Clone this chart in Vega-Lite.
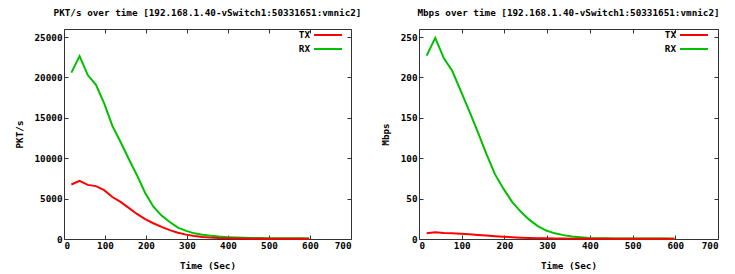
{
  "$schema": "https://vega.github.io/schema/vega-lite/v6.json",
  "background": "white",
  "padding": {"left": 14, "top": 8, "right": 4, "bottom": 2},
  "config": {
    "font": "DejaVu Sans Mono",
    "view": {"stroke": "#333333", "strokeWidth": 1},
    "axis": {
      "labelFont": "DejaVu Sans Mono", "labelFontWeight": "bold", "labelFontSize": 9.3, "labelColor": "#000",
      "titleFont": "DejaVu Sans Mono", "titleFontWeight": "bold", "titleFontSize": 9.3, "titleColor": "#000",
      "grid": false, "domain": false, "tickColor": "#333333", "tickSize": -4, "labelPadding": 6, "format": "d"
    },
    "title": {"font": "DejaVu Sans Mono", "fontWeight": "bold", "fontSize": 9.3, "color": "#000", "offset": 10},
    "legend": {
      "labelFont": "DejaVu Sans Mono", "labelFontWeight": "bold", "labelFontSize": 9.3, "labelColor": "#000"
    }
  },
  "datasets": {
    "traffic": [
      {"t": 18, "dir": "RX", "pkts": 20600, "mbps": 227},
      {"t": 38, "dir": "RX", "pkts": 22650, "mbps": 249},
      {"t": 58, "dir": "RX", "pkts": 20300, "mbps": 224},
      {"t": 78, "dir": "RX", "pkts": 19100, "mbps": 208},
      {"t": 98, "dir": "RX", "pkts": 16800, "mbps": 183},
      {"t": 118, "dir": "RX", "pkts": 14000, "mbps": 158},
      {"t": 138, "dir": "RX", "pkts": 12000, "mbps": 132},
      {"t": 158, "dir": "RX", "pkts": 9900, "mbps": 105},
      {"t": 178, "dir": "RX", "pkts": 7900, "mbps": 80},
      {"t": 198, "dir": "RX", "pkts": 5700, "mbps": 62},
      {"t": 218, "dir": "RX", "pkts": 4000, "mbps": 46},
      {"t": 238, "dir": "RX", "pkts": 2900, "mbps": 34},
      {"t": 258, "dir": "RX", "pkts": 2100, "mbps": 24},
      {"t": 278, "dir": "RX", "pkts": 1400, "mbps": 16},
      {"t": 298, "dir": "RX", "pkts": 1000, "mbps": 10.5},
      {"t": 318, "dir": "RX", "pkts": 700, "mbps": 7},
      {"t": 338, "dir": "RX", "pkts": 520, "mbps": 4.8},
      {"t": 358, "dir": "RX", "pkts": 400, "mbps": 3.2},
      {"t": 378, "dir": "RX", "pkts": 300, "mbps": 2.2},
      {"t": 398, "dir": "RX", "pkts": 230, "mbps": 1.3},
      {"t": 418, "dir": "RX", "pkts": 180, "mbps": 1.0},
      {"t": 438, "dir": "RX", "pkts": 150, "mbps": 0.8},
      {"t": 458, "dir": "RX", "pkts": 130, "mbps": 0.7},
      {"t": 478, "dir": "RX", "pkts": 110, "mbps": 0.6},
      {"t": 498, "dir": "RX", "pkts": 100, "mbps": 0.5},
      {"t": 518, "dir": "RX", "pkts": 90, "mbps": 0.5},
      {"t": 538, "dir": "RX", "pkts": 80, "mbps": 0.5},
      {"t": 558, "dir": "RX", "pkts": 90, "mbps": 0.5},
      {"t": 578, "dir": "RX", "pkts": 80, "mbps": 0.5},
      {"t": 598, "dir": "RX", "pkts": 70, "mbps": 0.4},
      {"t": 18, "dir": "TX", "pkts": 6750, "mbps": 7.2},
      {"t": 38, "dir": "TX", "pkts": 7200, "mbps": 8.3},
      {"t": 58, "dir": "TX", "pkts": 6700, "mbps": 7.4},
      {"t": 78, "dir": "TX", "pkts": 6550, "mbps": 7.0},
      {"t": 98, "dir": "TX", "pkts": 6050, "mbps": 6.4},
      {"t": 118, "dir": "TX", "pkts": 5200, "mbps": 5.8},
      {"t": 138, "dir": "TX", "pkts": 4600, "mbps": 5.1},
      {"t": 158, "dir": "TX", "pkts": 3850, "mbps": 4.3},
      {"t": 178, "dir": "TX", "pkts": 3100, "mbps": 3.5},
      {"t": 198, "dir": "TX", "pkts": 2450, "mbps": 2.8},
      {"t": 218, "dir": "TX", "pkts": 1950, "mbps": 2.2},
      {"t": 238, "dir": "TX", "pkts": 1500, "mbps": 1.7},
      {"t": 258, "dir": "TX", "pkts": 1100, "mbps": 1.3},
      {"t": 278, "dir": "TX", "pkts": 780, "mbps": 1.0},
      {"t": 298, "dir": "TX", "pkts": 540, "mbps": 0.8},
      {"t": 318, "dir": "TX", "pkts": 370, "mbps": 0.6},
      {"t": 338, "dir": "TX", "pkts": 250, "mbps": 0.5},
      {"t": 358, "dir": "TX", "pkts": 170, "mbps": 0.4},
      {"t": 378, "dir": "TX", "pkts": 110, "mbps": 0.3},
      {"t": 398, "dir": "TX", "pkts": 80, "mbps": 0.25},
      {"t": 418, "dir": "TX", "pkts": 60, "mbps": 0.2},
      {"t": 438, "dir": "TX", "pkts": 50, "mbps": 0.2},
      {"t": 458, "dir": "TX", "pkts": 45, "mbps": 0.2},
      {"t": 478, "dir": "TX", "pkts": 40, "mbps": 0.2},
      {"t": 498, "dir": "TX", "pkts": 40, "mbps": 0.2},
      {"t": 518, "dir": "TX", "pkts": 35, "mbps": 0.2},
      {"t": 538, "dir": "TX", "pkts": 35, "mbps": 0.2},
      {"t": 558, "dir": "TX", "pkts": 35, "mbps": 0.2},
      {"t": 578, "dir": "TX", "pkts": 30, "mbps": 0.2},
      {"t": 598, "dir": "TX", "pkts": 30, "mbps": 0.2}
    ]
  },
  "hconcat": [
    {
      "title": "PKT/s over time [192.168.1.40-vSwitch1:50331651:vmnic2]",
      "width": 287,
      "height": 210,
      "data": {"name": "traffic"},
      "layer": [
        {
          "mark": {"type": "line", "strokeWidth": 2},
          "encoding": {
            "x": {"field": "t", "type": "quantitative", "scale": {"domain": [0, 700]}, "axis": {"values": [0,100,200,300,400,500,600,700], "title": "Time (Sec)", "titlePadding": 11}},
            "y": {"field": "pkts", "type": "quantitative", "scale": {"domain": [0, 25000]}, "axis": {"values": [0,5000,10000,15000,20000,25000], "title": "PKT/s", "titlePadding": 10}},
            "color": {"field": "dir", "type": "nominal", "scale": {"domain": ["TX","RX"], "range": ["#ff0000","#00c000"]},
              "legend": {"title": null, "orient": "none", "legendX": 258, "legendY": 0, "symbolType": "M-2.8,0H2.8", "symbolSize": 100, "symbolStrokeWidth": 2, "labelAlign": "right", "labelOffset": -24, "rowPadding": 2}}
          }
        },
        {
          "mark": {"type": "line", "strokeOpacity": 0},
          "encoding": {
            "x": {"field": "t", "type": "quantitative", "axis": {"orient": "top", "values": [0,100,200,300,400,500,600,700], "labels": false, "title": null}},
            "y": {"field": "pkts", "type": "quantitative", "axis": {"orient": "right", "values": [0,5000,10000,15000,20000,25000], "labels": false, "title": null}},
            "detail": {"field": "dir"}
          }
        }
      ],
      "resolve": {"axis": {"x": "independent", "y": "independent"}}
    },
    {
      "title": "Mbps over time [192.168.1.40-vSwitch1:50331651:vmnic2]",
      "width": 299,
      "height": 210,
      "data": {"name": "traffic"},
      "layer": [
        {
          "mark": {"type": "line", "strokeWidth": 2},
          "encoding": {
            "x": {"field": "t", "type": "quantitative", "scale": {"domain": [0, 700]}, "axis": {"values": [0,100,200,300,400,500,600,700], "title": "Time (Sec)", "titlePadding": 11}},
            "y": {"field": "mbps", "type": "quantitative", "scale": {"domain": [0, 250]}, "axis": {"values": [0,50,100,150,200,250], "title": "Mbps", "titlePadding": 10}},
            "color": {"field": "dir", "type": "nominal", "scale": {"domain": ["TX","RX"], "range": ["#ff0000","#00c000"]},
              "legend": {"title": null, "orient": "none", "legendX": 269, "legendY": 0, "symbolType": "M-2.8,0H2.8", "symbolSize": 100, "symbolStrokeWidth": 2, "labelAlign": "right", "labelOffset": -24, "rowPadding": 2}}
          }
        },
        {
          "mark": {"type": "line", "strokeOpacity": 0},
          "encoding": {
            "x": {"field": "t", "type": "quantitative", "axis": {"orient": "top", "values": [0,100,200,300,400,500,600,700], "labels": false, "title": null}},
            "y": {"field": "mbps", "type": "quantitative", "axis": {"orient": "right", "values": [0,50,100,150,200,250], "labels": false, "title": null}},
            "detail": {"field": "dir"}
          }
        }
      ],
      "resolve": {"axis": {"x": "independent", "y": "independent"}}
    }
  ],
  "resolve": {"legend": {"color": "independent"}, "scale": {"color": "independent"}},
  "spacing": 18
}
